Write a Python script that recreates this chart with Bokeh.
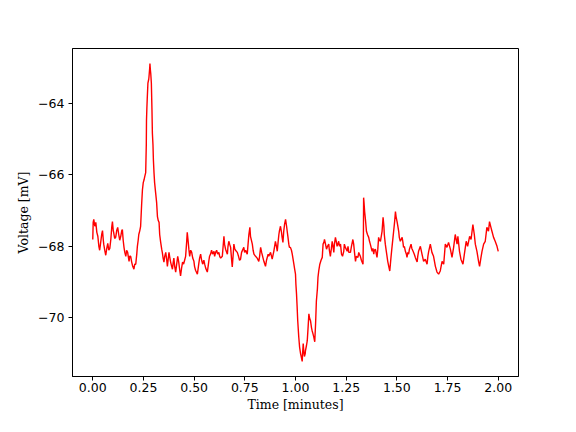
from bokeh.plotting import figure
from bokeh.models import FixedTicker, CustomJSTickFormatter, Range1d
from bokeh.embed import file_html
from bokeh.resources import INLINE

time_min = [
    0.000, 0.002, 0.005, 0.010, 0.015, 0.020, 0.025, 0.030, 0.034, 0.039,
    0.044, 0.048, 0.052, 0.054, 0.059, 0.064, 0.069, 0.074, 0.079, 0.084,
    0.089, 0.094, 0.097, 0.101, 0.103, 0.108, 0.113, 0.118, 0.123, 0.128,
    0.133, 0.138, 0.143, 0.146, 0.150, 0.154, 0.158, 0.163, 0.167, 0.172,
    0.179, 0.182, 0.187, 0.192, 0.197, 0.203, 0.207, 0.212, 0.217, 0.220,
    0.224, 0.227, 0.232, 0.236, 0.241, 0.245, 0.249, 0.253, 0.256, 0.261,
    0.264, 0.265, 0.267, 0.269, 0.272, 0.276, 0.277, 0.281, 0.282, 0.284,
    0.286, 0.289, 0.292, 0.294, 0.297, 0.299, 0.302, 0.305, 0.310, 0.315,
    0.319, 0.323, 0.327, 0.330, 0.335, 0.340, 0.343, 0.347, 0.351, 0.355,
    0.360, 0.365, 0.368, 0.372, 0.376, 0.379, 0.384, 0.389, 0.393, 0.397,
    0.400, 0.404, 0.409, 0.414, 0.419, 0.424, 0.429, 0.433, 0.438, 0.443,
    0.448, 0.453, 0.458, 0.463, 0.466, 0.470, 0.474, 0.478, 0.483, 0.488,
    0.493, 0.499, 0.502, 0.507, 0.516, 0.520, 0.524, 0.527, 0.532, 0.537,
    0.542, 0.548, 0.552, 0.557, 0.565, 0.569, 0.573, 0.576, 0.581, 0.586,
    0.591, 0.598, 0.601, 0.606, 0.611, 0.616, 0.622, 0.626, 0.631, 0.639,
    0.643, 0.647, 0.650, 0.655, 0.664, 0.667, 0.671, 0.675, 0.680, 0.685,
    0.688, 0.692, 0.696, 0.700, 0.704, 0.713, 0.719, 0.724, 0.729, 0.734,
    0.745, 0.749, 0.754, 0.762, 0.766, 0.770, 0.775, 0.778, 0.787, 0.791,
    0.795, 0.803, 0.811, 0.819, 0.823, 0.828, 0.833, 0.840, 0.844, 0.852,
    0.857, 0.865, 0.868, 0.877, 0.885, 0.893, 0.897, 0.901, 0.906, 0.910,
    0.914, 0.918, 0.921, 0.926, 0.931, 0.934, 0.938, 0.942, 0.946, 0.951,
    0.956, 0.959, 0.963, 0.967, 0.970, 0.975, 0.980, 0.984, 0.988, 0.992,
    0.995, 1.000, 1.002, 1.005, 1.008, 1.011, 1.016, 1.020, 1.025, 1.028,
    1.033, 1.035, 1.038, 1.041, 1.044, 1.048, 1.049, 1.054, 1.058, 1.062,
    1.066, 1.069, 1.074, 1.079, 1.082, 1.086, 1.090, 1.095, 1.099, 1.103,
    1.108, 1.111, 1.115, 1.120, 1.126, 1.132, 1.136, 1.140, 1.143, 1.148,
    1.153, 1.158, 1.164, 1.167, 1.172, 1.177, 1.181, 1.185, 1.189, 1.192,
    1.197, 1.202, 1.205, 1.209, 1.213, 1.217, 1.222, 1.227, 1.232, 1.238,
    1.241, 1.246, 1.255, 1.259, 1.263, 1.271, 1.276, 1.283, 1.287, 1.291,
    1.296, 1.300, 1.308, 1.312, 1.315, 1.320, 1.325, 1.333, 1.335, 1.336,
    1.338, 1.341, 1.345, 1.350, 1.355, 1.361, 1.365, 1.369, 1.378, 1.382,
    1.386, 1.389, 1.394, 1.402, 1.406, 1.410, 1.414, 1.419, 1.427, 1.432,
    1.436, 1.438, 1.443, 1.448, 1.455, 1.460, 1.465, 1.468, 1.471, 1.475,
    1.481, 1.485, 1.489, 1.493, 1.496, 1.501, 1.505, 1.509, 1.512, 1.517,
    1.526, 1.530, 1.533, 1.537, 1.542, 1.547, 1.550, 1.554, 1.558, 1.562,
    1.570, 1.574, 1.580, 1.586, 1.591, 1.600, 1.603, 1.607, 1.616, 1.624,
    1.632, 1.640, 1.649, 1.653, 1.657, 1.665, 1.673, 1.681, 1.690, 1.698,
    1.706, 1.714, 1.723, 1.731, 1.739, 1.747, 1.755, 1.764, 1.772, 1.780,
    1.788, 1.797, 1.801, 1.809, 1.816, 1.826, 1.833, 1.842, 1.849, 1.859,
    1.866, 1.875, 1.882, 1.887, 1.895, 1.903, 1.908, 1.915, 1.920, 1.928,
    1.936, 1.944, 1.952, 1.957, 1.964, 1.969, 1.977, 1.985, 1.994, 2.000,
]

voltage_mv = [
    -67.81, -67.33, -67.25, -67.44, -67.33, -67.61, -67.72, -68.00, -68.11, -67.89,
    -67.67, -67.56, -67.83, -67.94, -68.11, -68.25, -68.06, -67.92, -68.11, -68.06,
    -67.81, -67.44, -67.31, -67.56, -67.61, -67.78, -67.75, -67.56, -67.47, -67.67,
    -67.83, -67.72, -67.56, -67.53, -67.83, -68.03, -68.17, -68.28, -68.11, -68.17,
    -68.42, -68.28, -68.28, -68.44, -68.56, -68.64, -68.50, -68.50, -68.22, -68.00,
    -67.83, -67.67, -67.56, -67.44, -66.83, -66.42, -66.22, -66.14, -66.06, -65.94,
    -65.17, -64.47, -64.11, -63.83, -63.44, -63.33, -63.28, -63.00, -62.89, -63.06,
    -63.17, -63.44, -64.19, -64.83, -65.17, -65.58, -65.94, -66.22, -66.50, -66.78,
    -67.17, -67.28, -67.33, -67.67, -67.89, -68.08, -68.17, -68.33, -68.44, -68.28,
    -68.17, -68.39, -68.56, -68.36, -68.17, -68.28, -68.44, -68.56, -68.64, -68.44,
    -68.33, -68.56, -68.72, -68.50, -68.28, -68.44, -68.67, -68.83, -68.61, -68.44,
    -68.50, -68.39, -68.28, -67.89, -67.61, -67.83, -68.08, -68.28, -68.11, -68.17,
    -68.33, -68.42, -68.56, -68.67, -68.78, -68.61, -68.44, -68.33, -68.22, -68.39,
    -68.50, -68.39, -68.50, -68.61, -68.72, -68.56, -68.39, -68.28, -68.22, -68.11,
    -68.22, -68.14, -68.28, -68.17, -68.11, -68.22, -68.17, -68.28, -68.33, -68.28,
    -68.00, -67.72, -67.94, -68.08, -68.22, -68.00, -67.86, -67.94, -68.03, -68.39,
    -68.58, -68.28, -67.94, -68.06, -68.11, -68.17, -68.28, -68.39, -68.36, -68.17,
    -68.03, -68.17, -68.11, -68.22, -67.94, -67.67, -67.47, -67.72, -67.94, -68.11,
    -68.22, -68.28, -68.33, -68.42, -68.28, -68.03, -68.17, -68.33, -68.42, -68.56,
    -68.39, -68.22, -68.28, -68.17, -68.36, -68.14, -68.00, -67.86, -68.00, -68.14,
    -67.89, -67.67, -67.56, -67.44, -67.61, -67.75, -67.89, -67.58, -67.39, -67.25,
    -67.44, -67.58, -67.75, -67.94, -68.03, -68.03, -68.11, -68.22, -68.36, -68.50,
    -68.61, -68.78, -69.06, -69.33, -69.69, -70.08, -70.53, -70.81, -71.00, -71.08,
    -71.22, -71.00, -70.72, -70.94, -71.08, -71.00, -70.92, -70.78, -70.64, -70.28,
    -69.89, -70.00, -70.08, -70.28, -70.36, -70.44, -70.53, -70.67, -70.17, -69.53,
    -69.19, -68.86, -68.67, -68.50, -68.39, -68.31, -67.94, -67.89, -67.81, -67.94,
    -68.08, -68.00, -67.94, -68.11, -68.28, -68.06, -67.86, -68.00, -68.17, -67.94,
    -67.75, -67.89, -68.00, -67.94, -67.86, -68.00, -67.94, -68.22, -68.28, -68.14,
    -67.94, -68.03, -68.14, -68.00, -68.17, -68.17, -68.00, -67.81, -67.94, -68.17,
    -68.42, -68.28, -68.31, -68.17, -68.22, -68.28, -68.39, -68.50, -67.67, -66.64,
    -66.78, -67.03, -67.25, -67.58, -67.67, -67.75, -67.86, -67.94, -68.14, -68.06,
    -68.22, -68.11, -68.08, -68.31, -68.08, -67.75, -67.83, -67.86, -67.58, -67.19,
    -67.44, -67.67, -67.94, -68.14, -68.42, -68.56, -68.69, -68.50, -68.31, -68.08,
    -67.75, -67.53, -67.31, -67.03, -67.17, -67.31, -67.44, -67.58, -67.75, -67.86,
    -67.75, -67.89, -68.03, -68.00, -68.14, -68.22, -68.31, -68.17, -68.22, -68.08,
    -67.94, -68.06, -68.14, -68.22, -68.31, -68.44, -68.28, -68.14, -68.00, -68.22,
    -68.42, -68.36, -68.50, -68.28, -68.14, -67.94, -68.17, -68.28, -68.56, -68.72,
    -68.78, -68.69, -68.42, -68.50, -67.94, -68.03, -67.89, -68.08, -68.31, -68.03,
    -67.67, -67.94, -67.72, -68.14, -68.36, -68.50, -68.22, -67.86, -68.00, -67.72,
    -67.81, -67.39, -67.67, -67.94, -68.14, -68.42, -68.56, -68.31, -68.14, -67.94,
    -67.86, -67.47, -67.58, -67.31, -67.47, -67.58, -67.75, -67.86, -68.00, -68.14,
]

x_ticks = [0.0, 0.25, 0.5, 0.75, 1.0, 1.25, 1.5, 1.75, 2.0]
y_ticks = [-70, -68, -66, -64]

p = figure(
    width=560, height=416,
    x_range=Range1d(-0.1, 2.1), y_range=Range1d(-71.64, -62.47),
    output_backend="svg", toolbar_location=None,
    min_border_left=72, min_border_right=42, min_border_top=48, min_border_bottom=40,
)
p.background_fill_color = "white"
p.border_fill_color = "white"
p.outline_line_color = "black"
p.outline_line_width = 1
p.grid.visible = False

p.line(time_min, voltage_mv, line_color="#ff0000", line_width=1.4)

p.xaxis.ticker = FixedTicker(ticks=x_ticks)
p.yaxis.ticker = FixedTicker(ticks=y_ticks)
p.xaxis.formatter = CustomJSTickFormatter(code="return tick.toFixed(2);")
p.yaxis.formatter = CustomJSTickFormatter(
    code="return (tick < 0 ? '\u2212' : '') + Math.abs(tick).toFixed(0);")

for ax in (p.xaxis[0], p.yaxis[0]):
    ax.axis_line_color = "black"
    ax.axis_line_width = 1
    ax.major_tick_line_color = "black"
    ax.major_tick_line_width = 1
    ax.major_tick_out = 4
    ax.major_tick_in = 0
    ax.minor_tick_line_color = None
    ax.major_label_text_font = "DejaVu Sans"
    ax.major_label_text_font_size = "12.5px"
    ax.major_label_text_color = "black"
    ax.major_label_standoff = 2
    ax.axis_label_text_font = "DejaVu Serif"
    ax.axis_label_text_font_size = "12.5px"
    ax.axis_label_text_font_style = "normal"
    ax.axis_label_text_color = "black"
    ax.axis_label_standoff = 2

p.yaxis.major_label_standoff = 4
p.yaxis.axis_label_standoff = 4

p.xaxis.axis_label = "Time [minutes]"
p.yaxis.axis_label = "Voltage [mV]"

open("out.html", "w").write(file_html(p, INLINE))
